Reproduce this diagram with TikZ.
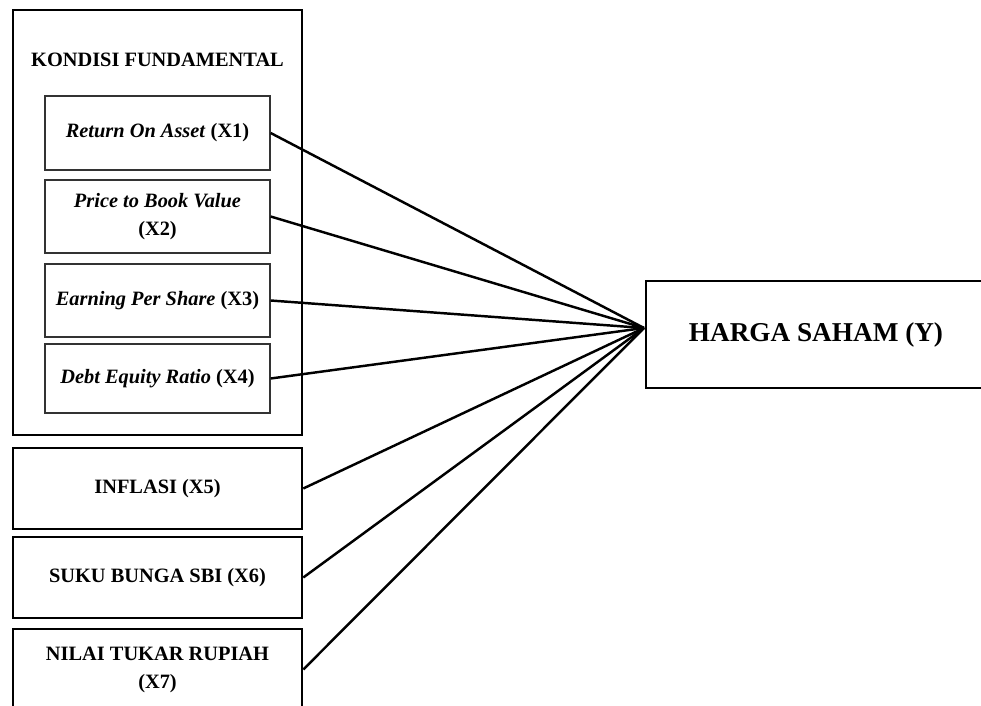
\documentclass[tikz,border=0pt]{standalone}
\usepackage{fontspec}
\setmainfont{Liberation Serif}
\usepackage{tikz}

\begin{document}
\begin{tikzpicture}[x=0.02cm,y=-0.02cm,semithick]
    \tikzstyle{outerbox}=[draw=black, line width=1.5pt, rectangle, minimum width=5.78cm, inner sep=0pt, font=\fontsize{11.6}{16}\selectfont\bfseries, align=center]
    \tikzstyle{varbox}=[draw=black!80, line width=0.8pt, rectangle, minimum width=4.5cm, inner sep=0pt, font=\fontsize{11.6}{16}\selectfont\bfseries, align=center]
    \tikzstyle{link}=[line width=1.4pt, black]

    \clip (0,0) rectangle (981,706);

    \node[outerbox, minimum height=8.5cm] (kf) at (157.5,222.5) {};
    \node[font=\fontsize{11.6}{16}\selectfont\bfseries] (kft) at (157.5,60) {KONDISI FUNDAMENTAL};
    \node[varbox, minimum height=1.48cm] (x1) at (157.5,133)   {\textit{Return On Asset} (X1)};
    \node[varbox, minimum height=1.46cm] (x2) at (157.5,216.5) {\textit{Price to Book Value}\\(X2)};
    \node[varbox, minimum height=1.46cm] (x3) at (157.5,300.5) {\textit{Earning Per Share} (X3)};
    \node[varbox, minimum height=1.38cm] (x4) at (157.5,378.5) {\textit{Debt Equity Ratio} (X4)};
    \node[outerbox, minimum height=1.62cm] (x5) at (157.5,488.5) {INFLASI (X5)};
    \node[outerbox, minimum height=1.62cm] (x6) at (157.5,577.5) {SUKU BUNGA SBI (X6)};
    \node[outerbox, minimum height=1.62cm] (x7) at (157.5,669.5) {NILAI TUKAR RUPIAH\\(X7)};
    \node[outerbox, minimum width=6.8cm, minimum height=2.14cm, font=\fontsize{15.5}{18}\selectfont\bfseries] (y) at (816,334.5) {HARGA SAHAM (Y)};
    \coordinate (meet) at (644,328);

    \path
     (x1.east) edge[link] (meet)
     (x2.east) edge[link] (meet)
     (x3.east) edge[link] (meet)
     (x4.east) edge[link] (meet)
     (x5.east) edge[link] (meet)
     (x6.east) edge[link] (meet)
     (x7.east) edge[link] (meet)
     ;
\end{tikzpicture}
\end{document}
